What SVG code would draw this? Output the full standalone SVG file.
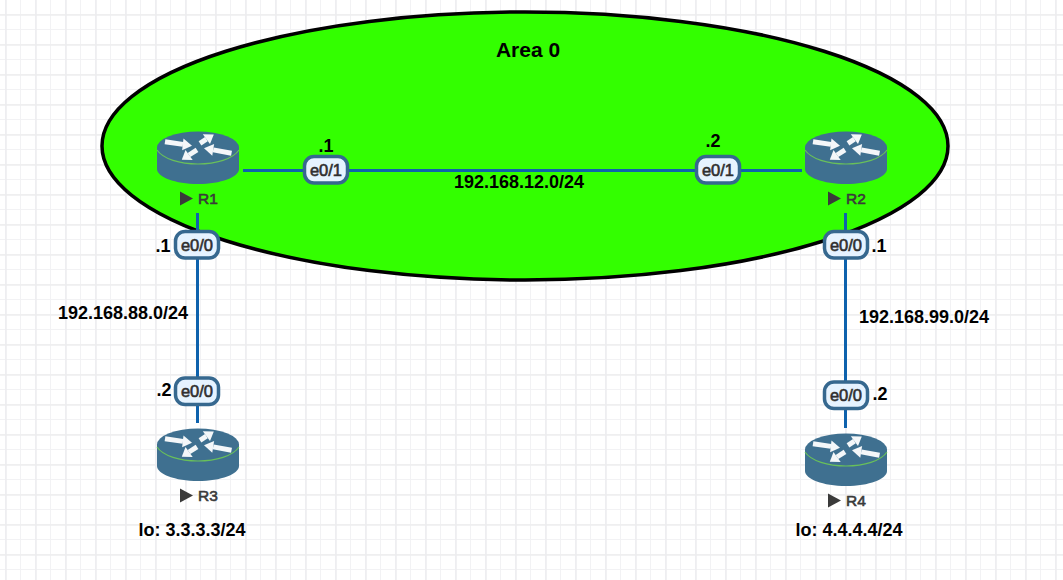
<svg xmlns="http://www.w3.org/2000/svg" width="1063" height="580" viewBox="0 0 1063 580">
<style>
.lbl{font-family:"Liberation Sans",Arial,sans-serif;font-weight:700;font-size:18px;fill:#000;text-anchor:middle}
.name{font-family:"Liberation Sans",Arial,sans-serif;font-size:15.500px;fill:#3a3a3a;stroke:#3a3a3a;stroke-width:.6}
.port{font-family:"Liberation Sans",Arial,sans-serif;font-size:16.500px;fill:#2f2f2f;stroke:#2f2f2f;stroke-width:.6;text-anchor:middle}
.pill{fill:#e6f3ff;stroke:#36688f;stroke-width:3.500}
.link{stroke:#0e62ad;stroke-width:3;fill:none}
</style>
<defs>
<pattern id="minor" width="15" height="15" patternUnits="userSpaceOnUse" x="5" y="-1"><path d="M0.500 0V15M0 .5H15" stroke="#f2f2f4" stroke-width="1" fill="none"/></pattern>
<pattern id="major" width="30" height="30" patternUnits="userSpaceOnUse" x="4" y="13"><path d="M2 0V30M0 2H30" stroke="#eeeef0" stroke-width="1.600" fill="none"/></pattern>
<g id="router">
<path d="M-41 0V22C-41 30 -23 37 0 37S41 30 41 22V0Z" fill="#3f7090"/>
<ellipse cx="0" cy="0.500" rx="41" ry="16" fill="#3f7090"/>
<path d="M-41 3C-35 12 -18 17 0 17S35 12 41 3" fill="none" stroke="#69c05a" stroke-width="1.200"/>
<g fill="#f4f7f9" stroke="#f4f7f9">
<path d="M-33 -5.300L-15 -2.600" stroke-width="5" fill="none"/><path d="M-14.500 -8.500L-6 -1.300L-15.900 3.300Z" stroke="none"/>
<path d="M2 -3.700L8.400 -7.900" stroke-width="5" fill="none"/><path d="M12 -3L15.800 -12.500L4.800 -12.700Z" stroke="none"/>
<path d="M33.500 6.300L15.200 2.900" stroke-width="5" fill="none"/><path d="M14.300 8.800L6 1.300L16.100 -3Z" stroke="none"/>
<path d="M-1 2.800L-9 8" stroke-width="5" fill="none"/><path d="M-5.300 13L-16.200 12.800L-12.500 3Z" stroke="none"/>
</g>
</g>
<path id="tri" d="M0 0L13 7L0 14Z" fill="#3a3a3a"/>
</defs>
<rect width="1063" height="580" fill="#fff"/>
<rect width="1063" height="580" fill="url(#minor)"/>
<rect width="1063" height="580" fill="url(#major)"/>
<ellipse id="area0" cx="525" cy="146" rx="423" ry="134" fill="#33ff00" stroke="#000" stroke-width="3.500"/>
<g id="connectors">
<path class="link" d="M243 170.500H802"/>
<path class="link" d="M197.500 213V423"/>
<path class="link" d="M845.500 213V428"/>
</g>
<g id="R1"><use href="#router" x="198" y="147"/><use href="#tri" x="180" y="191.500"/><text class="name" x="198" y="204">R1</text></g>
<g id="R2"><use href="#router" x="846" y="147"/><use href="#tri" x="828" y="191.500"/><text class="name" x="846" y="204">R2</text></g>
<g id="R3"><use href="#router" x="198" y="444"/><use href="#tri" x="180" y="488.500"/><text class="name" x="198" y="501">R3</text></g>
<g id="R4"><use href="#router" x="846" y="449"/><use href="#tri" x="828" y="493.500"/><text class="name" x="846" y="506">R4</text></g>
<g id="ports">
<rect class="pill" x="304.500" y="156.500" width="43" height="26.500" rx="9.500"/><text class="port" x="326" y="175.500">e0/1</text>
<rect class="pill" x="696.500" y="156.500" width="43" height="26.500" rx="9.500"/><text class="port" x="718" y="175.500">e0/1</text>
<rect class="pill" x="175.500" y="231.500" width="43" height="26.500" rx="9.500"/><text class="port" x="197" y="250.500">e0/0</text>
<rect class="pill" x="824.500" y="231.500" width="43" height="26.500" rx="9.500"/><text class="port" x="846" y="250.500">e0/0</text>
<rect class="pill" x="175.500" y="378" width="43" height="26.500" rx="9.500"/><text class="port" x="197" y="397">e0/0</text>
<rect class="pill" x="824.500" y="382" width="43" height="26.500" rx="9.500"/><text class="port" x="846" y="401">e0/0</text>
</g>
<g id="labels">
<text class="lbl" x="528" y="57" style="font-size:21px">Area 0</text>
<text class="lbl" x="326" y="152">.1</text>
<text class="lbl" x="713" y="147">.2</text>
<text class="lbl" x="519" y="188">192.168.12.0/24</text>
<text class="lbl" x="163" y="252">.1</text>
<text class="lbl" x="879" y="252">.1</text>
<text class="lbl" x="123" y="319">192.168.88.0/24</text>
<text class="lbl" x="924" y="323">192.168.99.0/24</text>
<text class="lbl" x="164" y="396">.2</text>
<text class="lbl" x="880" y="400">.2</text>
<text class="lbl" x="192" y="536">lo: 3.3.3.3/24</text>
<text class="lbl" x="849" y="536">lo: 4.4.4.4/24</text>
</g>
</svg>
